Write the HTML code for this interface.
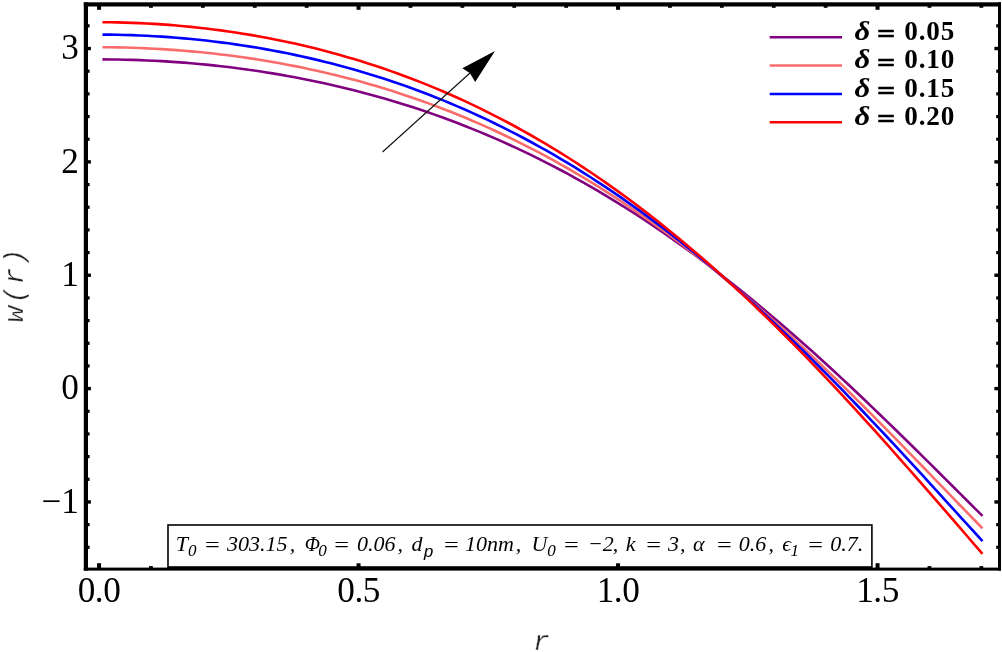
<!DOCTYPE html>
<html><head><meta charset="utf-8"><title>w(r) plot</title>
<style>
html,body{margin:0;padding:0;background:#fff;}
svg{display:block;filter:blur(0.45px);}
.tk{font-family:"Liberation Serif",serif;font-size:35.2px;fill:#000;}
.lg{font-family:"Liberation Serif",serif;font-size:27.2px;font-weight:bold;fill:#000;}
.bx{font-family:"Liberation Serif","DejaVu Serif",serif;font-size:22px;font-style:italic;fill:#000;}
.ax{font-family:"Liberation Mono",monospace;font-size:28px;font-style:italic;fill:#222;stroke:#fff;stroke-width:0.35px;paint-order:fill stroke;}
</style></head><body>
<svg width="1002" height="652" viewBox="0 0 1002 652">
<rect width="1002" height="652" fill="#fff"/>
<path d="M102.50,59.38 L109.90,59.43 L117.29,59.53 L124.69,59.68 L132.08,59.88 L139.48,60.13 L146.87,60.43 L154.27,60.78 L161.66,61.17 L169.06,61.62 L176.45,62.12 L183.85,62.67 L191.24,63.27 L198.64,63.93 L206.03,64.63 L213.43,65.39 L220.82,66.20 L228.22,67.06 L235.61,67.97 L243.01,68.94 L250.40,69.96 L257.80,71.04 L265.19,72.17 L272.59,73.36 L279.98,74.61 L287.38,75.91 L294.77,77.27 L302.17,78.69 L309.56,80.16 L316.96,81.70 L324.35,83.29 L331.75,84.95 L339.14,86.67 L346.54,88.44 L353.93,90.29 L361.33,92.19 L368.72,94.16 L376.12,96.19 L383.51,98.29 L390.91,100.46 L398.30,102.69 L405.70,104.99 L413.09,107.36 L420.49,109.80 L427.88,112.31 L435.28,114.89 L442.67,117.54 L450.07,120.26 L457.46,123.06 L464.86,125.93 L472.25,128.88 L479.65,131.89 L487.04,134.99 L494.43,138.16 L501.83,141.41 L509.22,144.74 L516.62,148.14 L524.01,151.63 L531.41,155.19 L538.80,158.83 L546.20,162.56 L553.59,166.36 L560.99,170.25 L568.38,174.22 L575.78,178.27 L583.17,182.41 L590.57,186.63 L597.96,190.93 L605.36,195.32 L612.75,199.79 L620.15,204.34 L627.54,208.98 L634.94,213.70 L642.33,218.51 L649.73,223.40 L657.12,228.38 L664.52,233.44 L671.91,238.59 L679.31,243.82 L686.70,249.13 L694.10,254.52 L701.49,260.00 L708.89,265.57 L716.28,271.21 L723.68,276.93 L731.07,282.74 L738.47,288.62 L745.86,294.58 L753.26,300.62 L760.65,306.74 L768.05,312.93 L775.44,319.19 L782.84,325.53 L790.23,331.94 L797.63,338.42 L805.02,344.96 L812.42,351.58 L819.81,358.25 L827.21,364.99 L834.60,371.79 L842.00,378.65 L849.39,385.56 L856.79,392.52 L864.18,399.54 L871.58,406.60 L878.97,413.71 L886.37,420.85 L893.76,428.04 L901.16,435.26 L908.55,442.52 L915.95,449.80 L923.34,457.10 L930.74,464.43 L938.13,471.77 L945.53,479.13 L952.92,486.49 L960.32,493.85 L967.71,501.22 L975.11,508.57 L982.50,515.92" fill="none" stroke="#800080" stroke-width="2.6" stroke-linecap="butt" stroke-linejoin="round"/>
<path d="M102.50,47.23 L109.90,47.29 L117.29,47.39 L124.69,47.55 L132.08,47.76 L139.48,48.02 L146.87,48.34 L154.27,48.71 L161.66,49.13 L169.06,49.60 L176.45,50.12 L183.85,50.70 L191.24,51.34 L198.64,52.03 L206.03,52.77 L213.43,53.57 L220.82,54.42 L228.22,55.33 L235.61,56.29 L243.01,57.31 L250.40,58.39 L257.80,59.53 L265.19,60.72 L272.59,61.98 L279.98,63.29 L287.38,64.66 L294.77,66.10 L302.17,67.59 L309.56,69.15 L316.96,70.77 L324.35,72.46 L331.75,74.21 L339.14,76.02 L346.54,77.90 L353.93,79.85 L361.33,81.86 L368.72,83.94 L376.12,86.09 L383.51,88.31 L390.91,90.60 L398.30,92.97 L405.70,95.40 L413.09,97.91 L420.49,100.49 L427.88,103.14 L435.28,105.87 L442.67,108.68 L450.07,111.56 L457.46,114.53 L464.86,117.57 L472.25,120.68 L479.65,123.88 L487.04,127.16 L494.43,130.52 L501.83,133.97 L509.22,137.49 L516.62,141.10 L524.01,144.79 L531.41,148.57 L538.80,152.43 L546.20,156.38 L553.59,160.42 L560.99,164.54 L568.38,168.75 L575.78,173.05 L583.17,177.43 L590.57,181.91 L597.96,186.47 L605.36,191.12 L612.75,195.86 L620.15,200.69 L627.54,205.61 L634.94,210.62 L642.33,215.71 L649.73,220.90 L657.12,226.18 L664.52,231.54 L671.91,237.00 L679.31,242.54 L686.70,248.17 L694.10,253.89 L701.49,259.69 L708.89,265.58 L716.28,271.56 L723.68,277.62 L731.07,283.76 L738.47,289.99 L745.86,296.30 L753.26,302.68 L760.65,309.15 L768.05,315.70 L775.44,322.32 L782.84,329.01 L790.23,335.78 L797.63,342.62 L805.02,349.53 L812.42,356.50 L819.81,363.54 L827.21,370.64 L834.60,377.80 L842.00,385.02 L849.39,392.29 L856.79,399.62 L864.18,406.99 L871.58,414.40 L878.97,421.86 L886.37,429.36 L893.76,436.89 L901.16,444.45 L908.55,452.04 L915.95,459.65 L923.34,467.27 L930.74,474.92 L938.13,482.57 L945.53,490.22 L952.92,497.87 L960.32,505.52 L967.71,513.15 L975.11,520.77 L982.50,528.36" fill="none" stroke="#fa6c6c" stroke-width="2.6" stroke-linecap="butt" stroke-linejoin="round"/>
<path d="M102.50,34.60 L109.90,34.66 L117.29,34.78 L124.69,34.95 L132.08,35.17 L139.48,35.46 L146.87,35.80 L154.27,36.19 L161.66,36.64 L169.06,37.15 L176.45,37.72 L183.85,38.34 L191.24,39.02 L198.64,39.76 L206.03,40.56 L213.43,41.42 L220.82,42.34 L228.22,43.31 L235.61,44.35 L243.01,45.44 L250.40,46.60 L257.80,47.82 L265.19,49.10 L272.59,50.44 L279.98,51.85 L287.38,53.32 L294.77,54.86 L302.17,56.46 L309.56,58.12 L316.96,59.86 L324.35,61.66 L331.75,63.52 L339.14,65.46 L346.54,67.46 L353.93,69.54 L361.33,71.68 L368.72,73.90 L376.12,76.19 L383.51,78.55 L390.91,80.98 L398.30,83.49 L405.70,86.08 L413.09,88.74 L420.49,91.48 L427.88,94.29 L435.28,97.18 L442.67,100.16 L450.07,103.21 L457.46,106.34 L464.86,109.55 L472.25,112.85 L479.65,116.23 L487.04,119.69 L494.43,123.23 L501.83,126.86 L509.22,130.58 L516.62,134.38 L524.01,138.27 L531.41,142.25 L538.80,146.31 L546.20,150.46 L553.59,154.70 L560.99,159.03 L568.38,163.45 L575.78,167.97 L583.17,172.57 L590.57,177.26 L597.96,182.04 L605.36,186.92 L612.75,191.89 L620.15,196.94 L627.54,202.10 L634.94,207.34 L642.33,212.67 L649.73,218.10 L657.12,223.62 L664.52,229.23 L671.91,234.94 L679.31,240.73 L686.70,246.61 L694.10,252.59 L701.49,258.66 L708.89,264.81 L716.28,271.06 L723.68,277.39 L731.07,283.81 L738.47,290.31 L745.86,296.90 L753.26,303.58 L760.65,310.34 L768.05,317.17 L775.44,324.09 L782.84,331.09 L790.23,338.17 L797.63,345.32 L805.02,352.55 L812.42,359.84 L819.81,367.21 L827.21,374.65 L834.60,382.15 L842.00,389.71 L849.39,397.33 L856.79,405.01 L864.18,412.75 L871.58,420.54 L878.97,428.37 L886.37,436.26 L893.76,444.18 L901.16,452.14 L908.55,460.14 L915.95,468.17 L923.34,476.23 L930.74,484.31 L938.13,492.40 L945.53,500.52 L952.92,508.64 L960.32,516.76 L967.71,524.89 L975.11,533.00 L982.50,541.11" fill="none" stroke="#0000ff" stroke-width="2.6" stroke-linecap="butt" stroke-linejoin="round"/>
<path d="M102.50,22.23 L109.90,22.29 L117.29,22.41 L124.69,22.59 L132.08,22.83 L139.48,23.13 L146.87,23.48 L154.27,23.90 L161.66,24.38 L169.06,24.92 L176.45,25.51 L183.85,26.17 L191.24,26.89 L198.64,27.67 L206.03,28.52 L213.43,29.42 L220.82,30.39 L228.22,31.42 L235.61,32.51 L243.01,33.67 L250.40,34.89 L257.80,36.17 L265.19,37.53 L272.59,38.94 L279.98,40.43 L287.38,41.98 L294.77,43.60 L302.17,45.28 L309.56,47.04 L316.96,48.86 L324.35,50.76 L331.75,52.73 L339.14,54.77 L346.54,56.88 L353.93,59.06 L361.33,61.32 L368.72,63.66 L376.12,66.07 L383.51,68.55 L390.91,71.12 L398.30,73.76 L405.70,76.48 L413.09,79.28 L420.49,82.16 L427.88,85.12 L435.28,88.16 L442.67,91.28 L450.07,94.49 L457.46,97.78 L464.86,101.16 L472.25,104.63 L479.65,108.18 L487.04,111.81 L494.43,115.54 L501.83,119.35 L509.22,123.25 L516.62,127.25 L524.01,131.33 L531.41,135.50 L538.80,139.77 L546.20,144.13 L553.59,148.58 L560.99,153.12 L568.38,157.76 L575.78,162.49 L583.17,167.32 L590.57,172.24 L597.96,177.26 L605.36,182.37 L612.75,187.58 L620.15,192.89 L627.54,198.29 L634.94,203.79 L642.33,209.38 L649.73,215.07 L657.12,220.85 L664.52,226.73 L671.91,232.71 L679.31,238.78 L686.70,244.95 L694.10,251.21 L701.49,257.57 L708.89,264.02 L716.28,270.56 L723.68,277.19 L731.07,283.92 L738.47,290.73 L745.86,297.64 L753.26,304.63 L760.65,311.71 L768.05,318.88 L775.44,326.12 L782.84,333.46 L790.23,340.87 L797.63,348.36 L805.02,355.93 L812.42,363.58 L819.81,371.30 L827.21,379.09 L834.60,386.95 L842.00,394.88 L849.39,402.87 L856.79,410.92 L864.18,419.03 L871.58,427.20 L878.97,435.41 L886.37,443.68 L893.76,451.99 L901.16,460.35 L908.55,468.74 L915.95,477.17 L923.34,485.62 L930.74,494.10 L938.13,502.61 L945.53,511.13 L952.92,519.66 L960.32,528.20 L967.71,536.74 L975.11,545.28 L982.50,553.80" fill="none" stroke="#ff0000" stroke-width="2.6" stroke-linecap="butt" stroke-linejoin="round"/>

<line x1="382.5" y1="152" x2="470" y2="73" stroke="#111" stroke-width="1.15"/>
<polygon points="495,51 462.3,68.2 469.8,73 475.2,82" fill="#000"/>
<rect x="97.05" y="563.20" width="4.00" height="5.40" fill="#000"/><rect x="97.05" y="5.50" width="4.00" height="4.30" fill="#000"/><rect x="149.05" y="566.10" width="3.80" height="2.50" fill="#000"/><rect x="149.05" y="5.50" width="3.80" height="2.30" fill="#000"/><rect x="200.95" y="566.10" width="3.80" height="2.50" fill="#000"/><rect x="200.95" y="5.50" width="3.80" height="2.30" fill="#000"/><rect x="252.85" y="566.10" width="3.80" height="2.50" fill="#000"/><rect x="252.85" y="5.50" width="3.80" height="2.30" fill="#000"/><rect x="304.75" y="566.10" width="3.80" height="2.50" fill="#000"/><rect x="304.75" y="5.50" width="3.80" height="2.30" fill="#000"/><rect x="356.55" y="563.20" width="4.00" height="5.40" fill="#000"/><rect x="356.55" y="5.50" width="4.00" height="4.30" fill="#000"/><rect x="408.55" y="566.10" width="3.80" height="2.50" fill="#000"/><rect x="408.55" y="5.50" width="3.80" height="2.30" fill="#000"/><rect x="460.45" y="566.10" width="3.80" height="2.50" fill="#000"/><rect x="460.45" y="5.50" width="3.80" height="2.30" fill="#000"/><rect x="512.35" y="566.10" width="3.80" height="2.50" fill="#000"/><rect x="512.35" y="5.50" width="3.80" height="2.30" fill="#000"/><rect x="564.25" y="566.10" width="3.80" height="2.50" fill="#000"/><rect x="564.25" y="5.50" width="3.80" height="2.30" fill="#000"/><rect x="616.05" y="563.20" width="4.00" height="5.40" fill="#000"/><rect x="616.05" y="5.50" width="4.00" height="4.30" fill="#000"/><rect x="668.05" y="566.10" width="3.80" height="2.50" fill="#000"/><rect x="668.05" y="5.50" width="3.80" height="2.30" fill="#000"/><rect x="719.95" y="566.10" width="3.80" height="2.50" fill="#000"/><rect x="719.95" y="5.50" width="3.80" height="2.30" fill="#000"/><rect x="771.85" y="566.10" width="3.80" height="2.50" fill="#000"/><rect x="771.85" y="5.50" width="3.80" height="2.30" fill="#000"/><rect x="823.75" y="566.10" width="3.80" height="2.50" fill="#000"/><rect x="823.75" y="5.50" width="3.80" height="2.30" fill="#000"/><rect x="875.55" y="563.20" width="4.00" height="5.40" fill="#000"/><rect x="875.55" y="5.50" width="4.00" height="4.30" fill="#000"/><rect x="927.55" y="566.10" width="3.80" height="2.50" fill="#000"/><rect x="927.55" y="5.50" width="3.80" height="2.30" fill="#000"/><rect x="979.45" y="566.10" width="3.80" height="2.50" fill="#000"/><rect x="979.45" y="5.50" width="3.80" height="2.30" fill="#000"/><rect x="87.00" y="545.70" width="2.60" height="3.20" fill="#000"/><rect x="996.20" y="545.70" width="2.80" height="3.20" fill="#000"/><rect x="87.00" y="523.03" width="2.60" height="3.20" fill="#000"/><rect x="996.20" y="523.03" width="2.80" height="3.20" fill="#000"/><rect x="87.00" y="500.26" width="3.90" height="3.40" fill="#000"/><rect x="994.40" y="500.26" width="4.60" height="3.40" fill="#000"/><rect x="87.00" y="477.69" width="2.60" height="3.20" fill="#000"/><rect x="996.20" y="477.69" width="2.80" height="3.20" fill="#000"/><rect x="87.00" y="455.02" width="2.60" height="3.20" fill="#000"/><rect x="996.20" y="455.02" width="2.80" height="3.20" fill="#000"/><rect x="87.00" y="432.34" width="2.60" height="3.20" fill="#000"/><rect x="996.20" y="432.34" width="2.80" height="3.20" fill="#000"/><rect x="87.00" y="409.67" width="2.60" height="3.20" fill="#000"/><rect x="996.20" y="409.67" width="2.80" height="3.20" fill="#000"/><rect x="87.00" y="386.90" width="3.90" height="3.40" fill="#000"/><rect x="994.40" y="386.90" width="4.60" height="3.40" fill="#000"/><rect x="87.00" y="364.33" width="2.60" height="3.20" fill="#000"/><rect x="996.20" y="364.33" width="2.80" height="3.20" fill="#000"/><rect x="87.00" y="341.66" width="2.60" height="3.20" fill="#000"/><rect x="996.20" y="341.66" width="2.80" height="3.20" fill="#000"/><rect x="87.00" y="318.98" width="2.60" height="3.20" fill="#000"/><rect x="996.20" y="318.98" width="2.80" height="3.20" fill="#000"/><rect x="87.00" y="296.31" width="2.60" height="3.20" fill="#000"/><rect x="996.20" y="296.31" width="2.80" height="3.20" fill="#000"/><rect x="87.00" y="273.54" width="3.90" height="3.40" fill="#000"/><rect x="994.40" y="273.54" width="4.60" height="3.40" fill="#000"/><rect x="87.00" y="250.97" width="2.60" height="3.20" fill="#000"/><rect x="996.20" y="250.97" width="2.80" height="3.20" fill="#000"/><rect x="87.00" y="228.30" width="2.60" height="3.20" fill="#000"/><rect x="996.20" y="228.30" width="2.80" height="3.20" fill="#000"/><rect x="87.00" y="205.62" width="2.60" height="3.20" fill="#000"/><rect x="996.20" y="205.62" width="2.80" height="3.20" fill="#000"/><rect x="87.00" y="182.95" width="2.60" height="3.20" fill="#000"/><rect x="996.20" y="182.95" width="2.80" height="3.20" fill="#000"/><rect x="87.00" y="160.18" width="3.90" height="3.40" fill="#000"/><rect x="994.40" y="160.18" width="4.60" height="3.40" fill="#000"/><rect x="87.00" y="137.61" width="2.60" height="3.20" fill="#000"/><rect x="996.20" y="137.61" width="2.80" height="3.20" fill="#000"/><rect x="87.00" y="114.94" width="2.60" height="3.20" fill="#000"/><rect x="996.20" y="114.94" width="2.80" height="3.20" fill="#000"/><rect x="87.00" y="92.26" width="2.60" height="3.20" fill="#000"/><rect x="996.20" y="92.26" width="2.80" height="3.20" fill="#000"/><rect x="87.00" y="69.59" width="2.60" height="3.20" fill="#000"/><rect x="996.20" y="69.59" width="2.80" height="3.20" fill="#000"/><rect x="87.00" y="46.82" width="3.90" height="3.40" fill="#000"/><rect x="994.40" y="46.82" width="4.60" height="3.40" fill="#000"/><rect x="87.00" y="24.25" width="2.60" height="3.20" fill="#000"/><rect x="996.20" y="24.25" width="2.80" height="3.20" fill="#000"/>
<rect x="168" y="525" width="703.9" height="43" fill="#fff" stroke="#000" stroke-width="1.6"/>
<rect x="168" y="566.2" width="703.9" height="2" fill="#000"/>
<rect x="356.55" y="563.3" width="4" height="4" fill="#000"/>
<rect x="616.05" y="563.3" width="4" height="4" fill="#000"/>
<rect x="83.80" y="2.30" width="4.20" height="568.30" fill="#000"/><rect x="83.80" y="2.30" width="917.20" height="4.20" fill="#000"/><rect x="998.00" y="2.30" width="3.00" height="568.30" fill="#000"/><rect x="83.80" y="567.60" width="917.20" height="3.00" fill="#000"/>
<text x="99.0" y="602.4" text-anchor="middle" class="tk" letter-spacing="-0.5">0.0</text><text x="358.6" y="602.4" text-anchor="middle" class="tk" letter-spacing="-0.5">0.5</text><text x="618.0" y="602.4" text-anchor="middle" class="tk" letter-spacing="-0.5">1.0</text><text x="877.5" y="602.4" text-anchor="middle" class="tk" letter-spacing="-0.5">1.5</text>
<text x="78.9" y="59.3" text-anchor="end" class="tk">3</text><text x="78.9" y="172.7" text-anchor="end" class="tk">2</text><text x="78.9" y="286.0" text-anchor="end" class="tk">1</text><text x="78.9" y="399.4" text-anchor="end" class="tk">0</text><text x="78.9" y="512.8" text-anchor="end" class="tk">−1</text>
<line x1="769.7" y1="37.3" x2="842" y2="37.3" stroke="#800080" stroke-width="2.5"/><text y="39.9" class="lg"><tspan x="854.6" font-style="italic" font-size="27" textLength="15.8" lengthAdjust="spacingAndGlyphs">δ</tspan><tspan x="877" dy="3.4" textLength="18.3" lengthAdjust="spacingAndGlyphs" stroke="#000" stroke-width="0.5">=</tspan><tspan x="904.3" dy="-3.4" letter-spacing="0.8">0.05</tspan></text><line x1="769.7" y1="65.6" x2="842" y2="65.6" stroke="#fa6c6c" stroke-width="2.5"/><text y="68.2" class="lg"><tspan x="854.6" font-style="italic" font-size="27" textLength="15.8" lengthAdjust="spacingAndGlyphs">δ</tspan><tspan x="877" dy="3.4" textLength="18.3" lengthAdjust="spacingAndGlyphs" stroke="#000" stroke-width="0.5">=</tspan><tspan x="904.3" dy="-3.4" letter-spacing="0.8">0.10</tspan></text><line x1="769.7" y1="93.9" x2="842" y2="93.9" stroke="#0000ff" stroke-width="2.5"/><text y="96.5" class="lg"><tspan x="854.6" font-style="italic" font-size="27" textLength="15.8" lengthAdjust="spacingAndGlyphs">δ</tspan><tspan x="877" dy="3.4" textLength="18.3" lengthAdjust="spacingAndGlyphs" stroke="#000" stroke-width="0.5">=</tspan><tspan x="904.3" dy="-3.4" letter-spacing="0.8">0.15</tspan></text><line x1="769.7" y1="122.2" x2="842" y2="122.2" stroke="#ff0000" stroke-width="2.5"/><text y="124.8" class="lg"><tspan x="854.6" font-style="italic" font-size="27" textLength="15.8" lengthAdjust="spacingAndGlyphs">δ</tspan><tspan x="877" dy="3.4" textLength="18.3" lengthAdjust="spacingAndGlyphs" stroke="#000" stroke-width="0.5">=</tspan><tspan x="904.3" dy="-3.4" letter-spacing="0.8">0.20</tspan></text>
<text class="bx"><tspan x="175.7" y="551">T</tspan><tspan x="188.1" y="556" font-size="17">0</tspan><tspan x="203.2" y="552.3" textLength="17.8" lengthAdjust="spacingAndGlyphs">=</tspan><tspan x="226.9" y="551">303.15</tspan><tspan x="289.7" y="551">,</tspan><tspan x="304.7" y="551" font-size="20">Φ</tspan><tspan x="318.3" y="556" font-size="17">0</tspan><tspan x="332.5" y="552.3" textLength="17.8" lengthAdjust="spacingAndGlyphs">=</tspan><tspan x="357.0" y="551">0.06</tspan><tspan x="397.5" y="551">,</tspan><tspan x="411.5" y="551">d</tspan><tspan x="423.5" y="557" font-size="17" font-family="Liberation Mono">p</tspan><tspan x="442.3" y="552.3" textLength="17.8" lengthAdjust="spacingAndGlyphs">=</tspan><tspan x="465.1" y="551">10nm</tspan><tspan x="515.8" y="551">,</tspan><tspan x="531.5" y="551">U</tspan><tspan x="547.2" y="556" font-size="17">0</tspan><tspan x="562.3" y="552.3" textLength="17.8" lengthAdjust="spacingAndGlyphs">=</tspan><tspan x="587.8" y="551">−2</tspan><tspan x="612.7" y="551">,</tspan><tspan x="625.7" y="551">k</tspan><tspan x="644.5" y="552.3" textLength="17.8" lengthAdjust="spacingAndGlyphs">=</tspan><tspan x="668.1" y="551">3</tspan><tspan x="680.1" y="551">,</tspan><tspan x="693.1" y="551">α</tspan><tspan x="715.2" y="552.3" textLength="17.8" lengthAdjust="spacingAndGlyphs">=</tspan><tspan x="738.8" y="551">0.6</tspan><tspan x="768.4" y="551">,</tspan><tspan x="782.2" y="551">ϵ</tspan><tspan x="790.5" y="556" font-size="17">1</tspan><tspan x="806.6" y="552.3" textLength="17.8" lengthAdjust="spacingAndGlyphs">=</tspan><tspan x="830.2" y="551">0.7.</tspan></text>
<text x="541.5" y="650" text-anchor="middle" class="ax">r</text>
<text transform="translate(22.9,284.5) rotate(-90)" text-anchor="middle" class="ax" letter-spacing="2.2">w(r)</text>
</svg>
</body></html>
